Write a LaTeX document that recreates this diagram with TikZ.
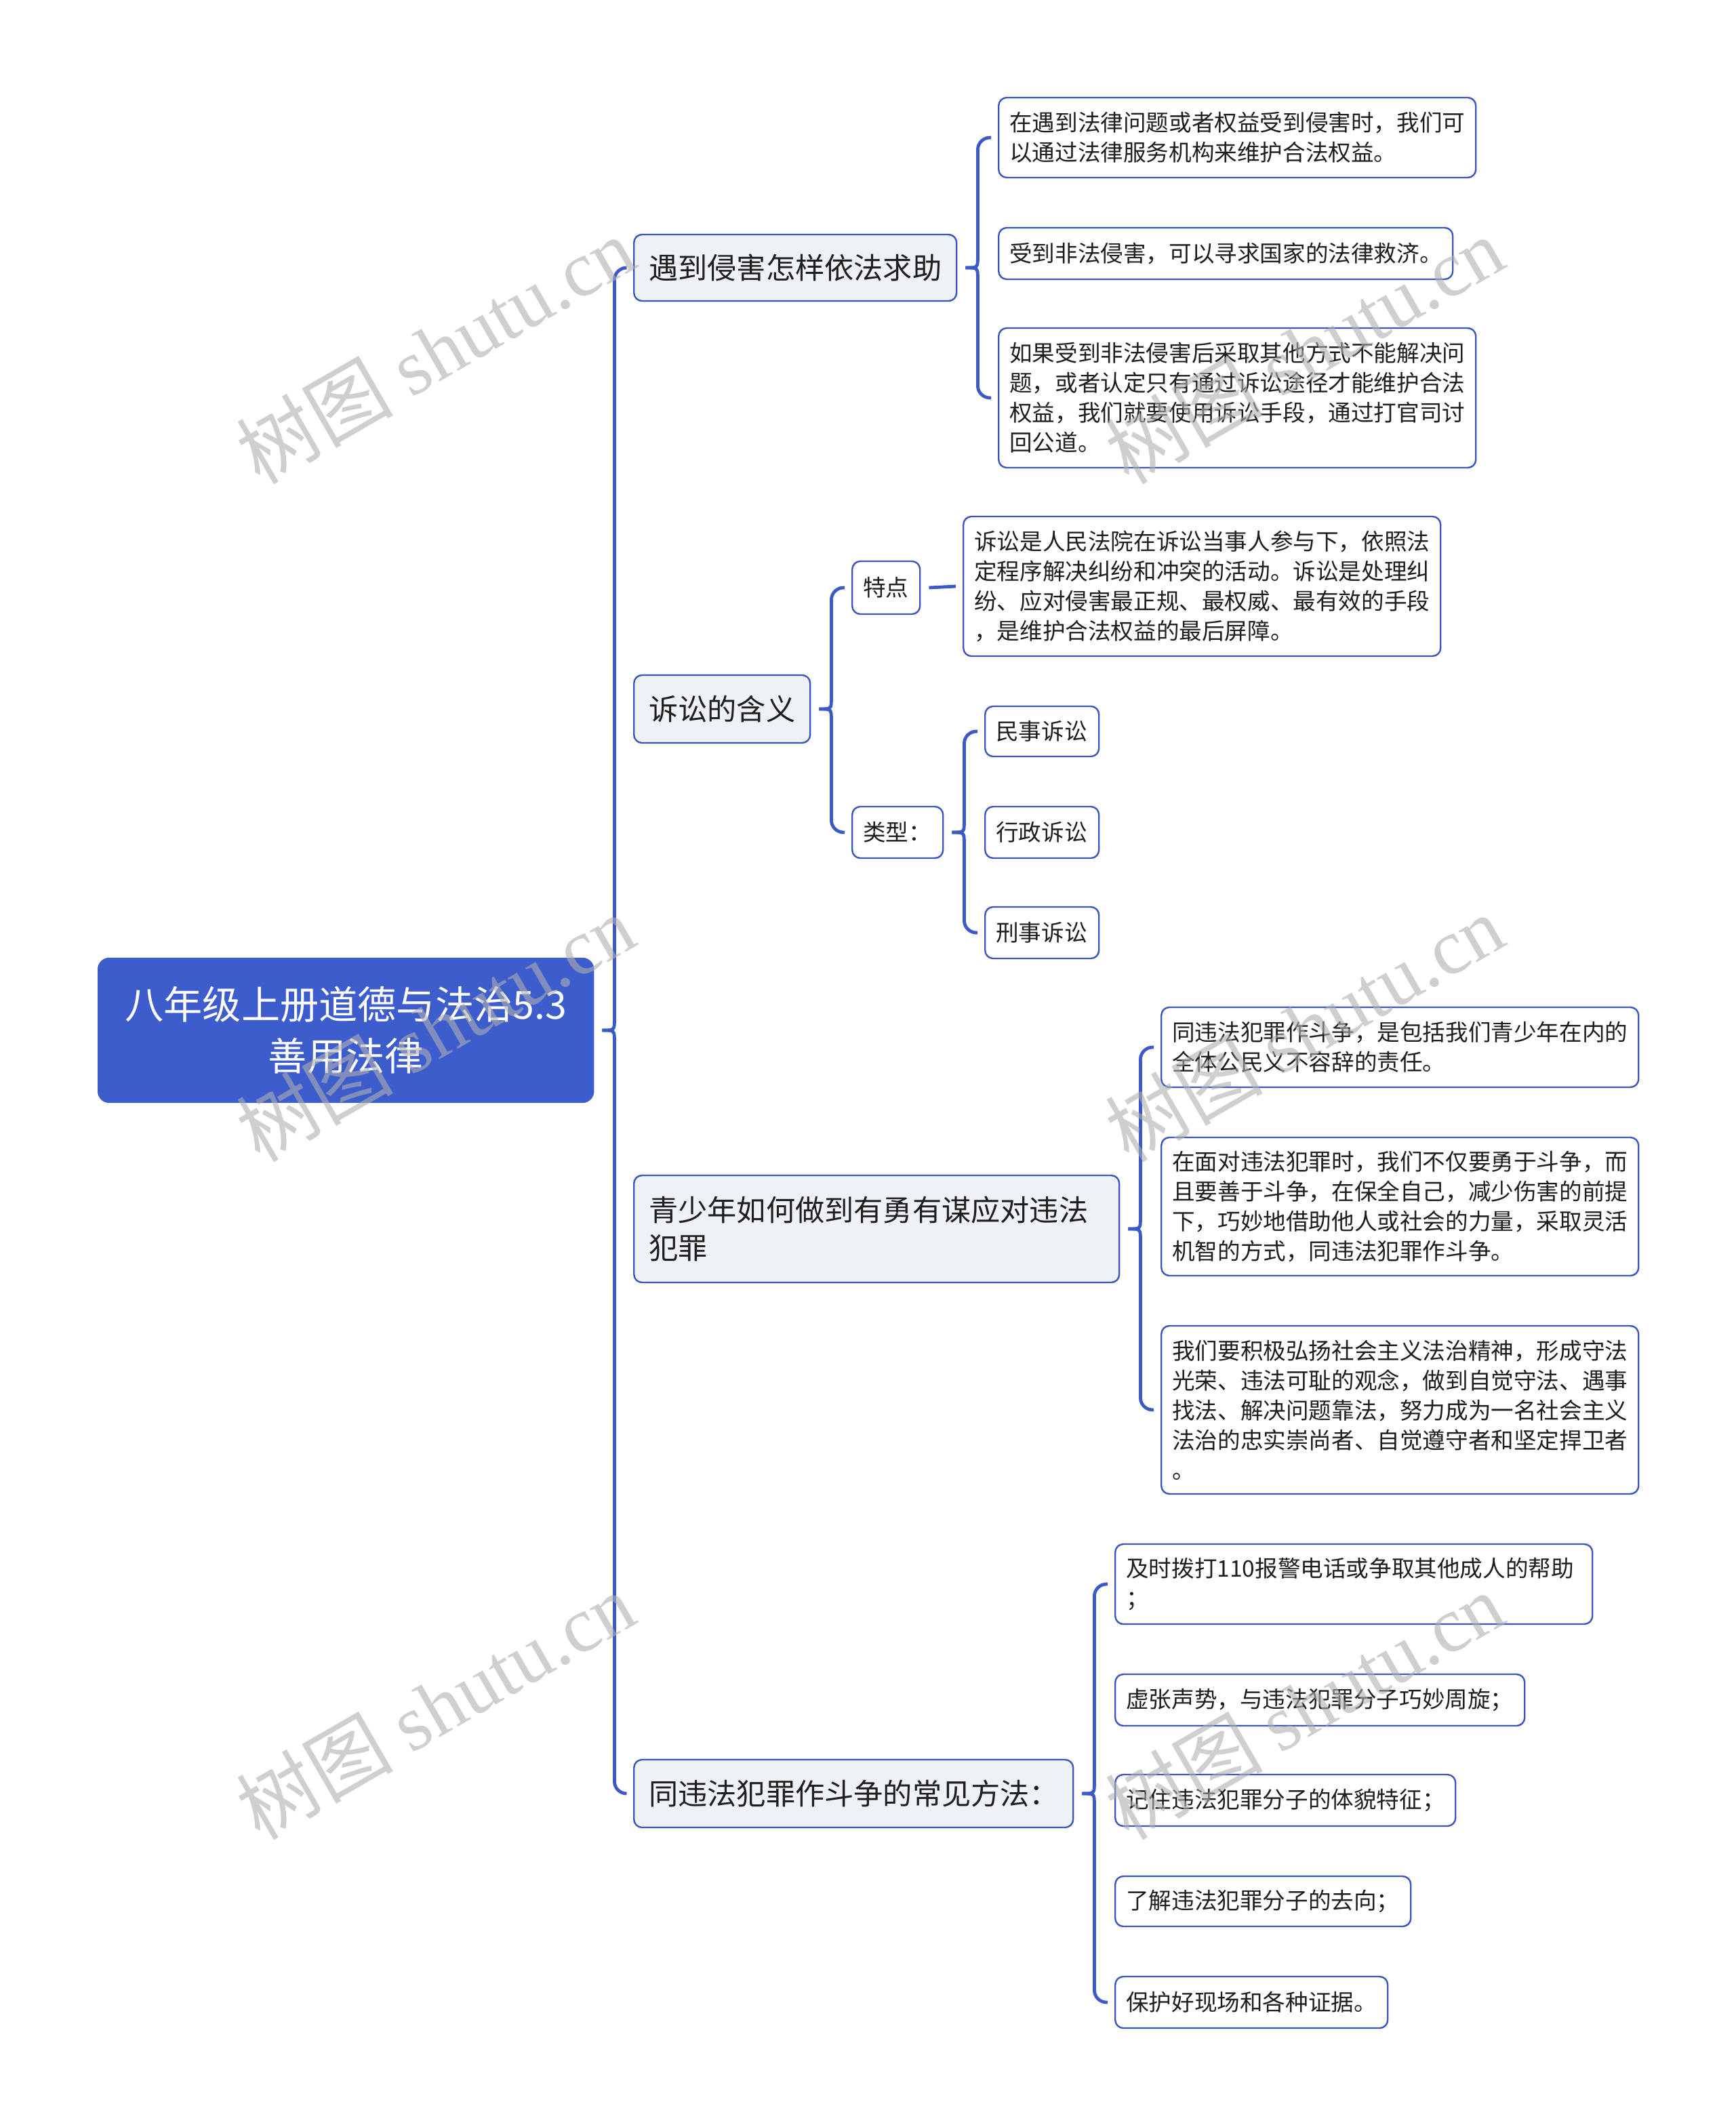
\documentclass[tikz,border=0pt]{standalone}
\usepackage{fontspec}
\setmainfont{Noto Sans CJK SC}
\newfontfamily\wmserif{Liberation Serif}
\usetikzlibrary{calc}
\definecolor{mblue}{RGB}{61,93,205}
\definecolor{lineblue}{RGB}{59,89,199}
\definecolor{boxblue}{RGB}{60,86,190}
\definecolor{lonefill}{RGB}{238,241,246}
\definecolor{txt}{RGB}{30,30,30}
\definecolor{wmgray}{RGB}{175,175,175}
\newcommand\braceup[2]{\draw[conn] ([xshift=3pt]#1.east) .. controls ([xshift=7.5pt]#1.east) .. ([xshift=7.5pt,yshift=4pt]#1.east) [rounded corners=4.5pt] |- ([xshift=-2.5pt]#2.west);}
\newcommand\bracedown[2]{\draw[conn] ([xshift=3pt]#1.east) .. controls ([xshift=7.5pt]#1.east) .. ([xshift=7.5pt,yshift=-4pt]#1.east) [rounded corners=4.5pt] |- ([xshift=-2.5pt]#2.west);}
\begin{document}
\begin{tikzpicture}[x=0.5pt,y=-0.5pt,
 rootbox/.style={draw=mblue, fill=mblue, line width=0.6pt, rounded corners=4pt, text=white, align=center, font=\fontsize{14.3pt}{19pt}\selectfont, minimum width=182.5pt, minimum height=53pt, inner sep=2pt, anchor=west},
 lone/.style={draw=boxblue, fill=lonefill, line width=0.6pt, rounded corners=3pt, text=txt, align=left, font=\fontsize{10.8pt}{14pt}\selectfont, inner xsep=5.5pt, inner ysep=2pt, anchor=west},
 ltwo/.style={draw=boxblue, fill=white, line width=0.6pt, rounded corners=3pt, text=txt, align=left, font=\fontsize{8.4pt}{11pt}\selectfont, inner xsep=4pt, inner ysep=2pt, anchor=west},
 conn/.style={draw=lineblue, line width=1.2pt},
 wm/.style={text=wmgray, text opacity=0.6, rotate=30, font=\fontsize{29pt}{29pt}\selectfont, inner sep=0pt}
]
\useasboundingbox (0,0) rectangle (1280,1567.5);

% root
\node[rootbox] (root) at (72,760) {八年级上册道德与法治5.3\\善用法律};

% level 1
\node[lone, text width=108pt, minimum height=24.5pt] (A) at (467,197.5) {遇到侵害怎样依法求助};
\node[lone, text width=54pt, minimum height=25pt] (B) at (467,523) {诉讼的含义};
\node[lone, text width=168pt, minimum height=39.5pt] (C) at (467,906.5) {青少年如何做到有勇有谋应对违法\\犯罪};
\node[lone, text width=151pt, minimum height=25pt] (D) at (467,1323) {同违法犯罪作斗争的常见方法：};

% branch A
\node[ltwo, text width=168pt, minimum height=29.5pt] (A1) at (736,101.5) {在遇到法律问题或者权益受到侵害时，我们可\\以通过法律服务机构来维护合法权益。};
\node[ltwo, text width=159.5pt, minimum height=19pt] (A2) at (736,187) {受到非法侵害，可以寻求国家的法律救济。};
\node[ltwo, text width=168pt, minimum height=51.5pt] (A3) at (736,293.5) {如果受到非法侵害后采取其他方式不能解决问\\题，或者认定只有通过诉讼途径才能维护合法\\权益，我们就要使用诉讼手段，通过打官司讨\\回公道。};

% branch B
\node[ltwo, text width=17pt, minimum height=19.5pt] (B1) at (628,433.5) {特点};
\node[ltwo, text width=25.5pt, minimum height=19pt] (B2) at (628,614) {类型：};
\node[ltwo, text width=168pt, minimum height=51.5pt] (B1a) at (710,432.5) {诉讼是人民法院在诉讼当事人参与下，依照法\\定程序解决纠纷和冲突的活动。诉讼是处理纠\\纷、应对侵害最正规、最权威、最有效的手段\\，是维护合法权益的最后屏障。};
\node[ltwo, text width=34pt, minimum height=18.5pt] (B2a) at (726,539.5) {民事诉讼};
\node[ltwo, text width=34pt, minimum height=19pt] (B2b) at (726,614) {行政诉讼};
\node[ltwo, text width=34pt, minimum height=19pt] (B2c) at (726,688) {刑事诉讼};

% branch C
\node[ltwo, text width=168pt, minimum height=29.5pt] (C1) at (856,772.5) {同违法犯罪作斗争，是包括我们青少年在内的\\全体公民义不容辞的责任。};
\node[ltwo, text width=168pt, minimum height=51pt] (C2) at (856,890) {在面对违法犯罪时，我们不仅要勇于斗争，而\\且要善于斗争，在保全自己，减少伤害的前提\\下，巧妙地借助他人或社会的力量，采取灵活\\机智的方式，同违法犯罪作斗争。};
\node[ltwo, text width=168pt, minimum height=62pt] (C3) at (856,1040) {我们要积极弘扬社会主义法治精神，形成守法\\光荣、违法可耻的观念，做到自觉守法、遇事\\找法、解决问题靠法，努力成为一名社会主义\\法治的忠实崇尚者、自觉遵守者和坚定捍卫者\\。};

% branch D
\node[ltwo, text width=168pt, minimum height=29.5pt] (D1) at (822,1168.5) {及时拨打110报警电话或争取其他成人的帮助\\；};
\node[ltwo, text width=143pt, minimum height=19pt] (D2) at (822,1254) {虚张声势，与违法犯罪分子巧妙周旋；};
\node[ltwo, text width=117.5pt, minimum height=19pt] (D3) at (822,1328) {记住违法犯罪分子的体貌特征；};
\node[ltwo, text width=101pt, minimum height=18.5pt] (D4) at (822,1402.5) {了解违法犯罪分子的去向；};
\node[ltwo, text width=92.5pt, minimum height=19pt] (D5) at (822,1477) {保护好现场和各种证据。};

% connectors (brace style)
\braceup{root}{A}
\bracedown{root}{D}
\braceup{A}{A1}
\bracedown{A}{A3}
\braceup{B}{B1}
\bracedown{B}{B2}
\draw[conn] ([xshift=3pt]B1.east) -- ([xshift=-2.5pt]B1a.west);
\braceup{B2}{B2a}
\bracedown{B2}{B2c}
\braceup{C}{C1}
\bracedown{C}{C3}
\braceup{D}{D1}
\bracedown{D}{D5}

% watermarks
\node[wm] (wm1) at (321,258) {树图 {\wmserif shutu.cn}};
\node[wm] (wm2) at (962,258) {树图 {\wmserif shutu.cn}};
\node[wm] (wm3) at (321,758) {树图 {\wmserif shutu.cn}};
\node[wm] (wm4) at (962,758) {树图 {\wmserif shutu.cn}};
\node[wm] (wm5) at (321,1258) {树图 {\wmserif shutu.cn}};
\node[wm] (wm6) at (962,1258) {树图 {\wmserif shutu.cn}};
\end{tikzpicture}
\end{document}
